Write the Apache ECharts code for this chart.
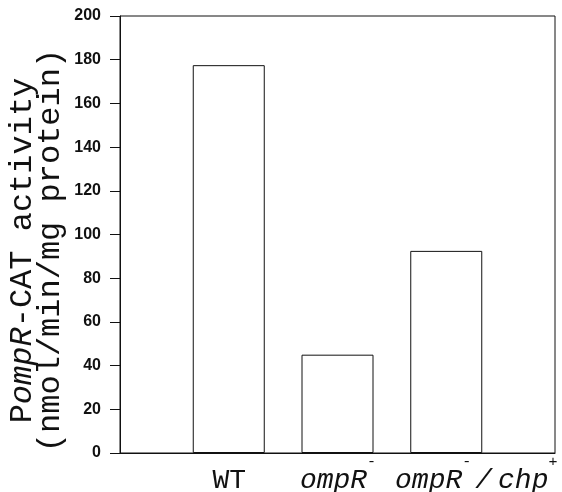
<!DOCTYPE html>
<html>
<head>
<meta charset="utf-8">
<script src="https://cdn.jsdelivr.net/npm/echarts@6/dist/echarts.min.js"></script>
<style>html,body{margin:0;padding:0;background:#fff;}#c{width:562px;height:492px;}</style>
</head>
<body>
<div id="c"></div>
<script>
// Data
const categories = ['', 'WT', 'ompR-', 'ompR-/chp+', ''];
const activity = [null, 177.5, 45, 92.5, null];
const yTicks = { min: 0, max: 200, interval: 20 };

const mono = '"Courier New", "Liberation Mono", monospace';
const chart = echarts.init(document.getElementById('c'));
chart.setOption({
  backgroundColor: '#fff',
  animation: false,
  grid: { left: 120, top: 16, right: 7, bottom: 39, show: true, borderColor: '#111', borderWidth: 1, backgroundColor: 'transparent', outerBoundsMode: 'none', containLabel: false },
  xAxis: {
    type: 'category',
    data: categories,
    boundaryGap: false,
    axisLine: { lineStyle: { color: '#111', width: 1 } },
    axisTick: { show: false },
    axisLabel: {
      margin: 2,
      interval: 0,
      formatter: function (v) {
        if (v === 'WT') return '{h| }{n|WT}';
        if (v === 'ompR-') return '{h| }{i|ompR}{s|-}';
        if (v === 'ompR-/chp+') return '{gap| }{i|ompR}{s|-}{sl|/}{i|chp}{s|+}';
        return '';
      },
      rich: {
        h: { width: 1, fontSize: 10, lineHeight: 40 },
        n: { fontFamily: mono, fontSize: 28, color: '#111', lineHeight: 30, verticalAlign: 'bottom' },
        i: { fontFamily: mono, fontSize: 28, fontStyle: 'italic', color: '#111', lineHeight: 30, verticalAlign: 'bottom' },
        sl: { fontFamily: mono, fontSize: 28, fontStyle: 'italic', color: '#111', lineHeight: 30, verticalAlign: 'bottom', padding: [0, 6, 0, 4] },
        s: { fontFamily: mono, fontSize: 15, color: '#111', verticalAlign: 'top', lineHeight: 14 },
        gap: { width: 60, fontSize: 10, lineHeight: 40 }
      }
    }
  },
  yAxis: {
    type: 'value',
    min: yTicks.min,
    max: yTicks.max,
    interval: yTicks.interval,
    splitLine: { show: false },
    axisLine: { show: true, lineStyle: { color: '#111', width: 1 } },
    axisTick: { show: true, inside: false, length: 10, lineStyle: { color: '#111' } },
    axisLabel: { margin: 19, fontFamily: 'Liberation Sans, Arial, sans-serif', fontSize: 16, fontWeight: 'bold', color: '#111' },
    name: '{n|P}{i|ompR}{n|-CAT activity}\n{n|(nmol/min/mg protein)}',
    nameLocation: 'middle',
    nameGap: 55,
    nameMoveOverlap: false,
    nameRotate: 90,
    nameTextStyle: {
      align: 'center',
      padding: [0, 32, 0, 0],
      rich: {
        n: { fontFamily: mono, fontSize: 32, color: '#111', lineHeight: 28 },
        i: { fontFamily: mono, fontSize: 32, fontStyle: 'italic', color: '#111', lineHeight: 28 }
      }
    }
  },
  series: [{
    type: 'bar',
    data: activity,
    barWidth: 72,
    itemStyle: { color: '#fff', borderColor: '#111', borderWidth: 1 }
  }]
});
</script>
</body>
</html>
